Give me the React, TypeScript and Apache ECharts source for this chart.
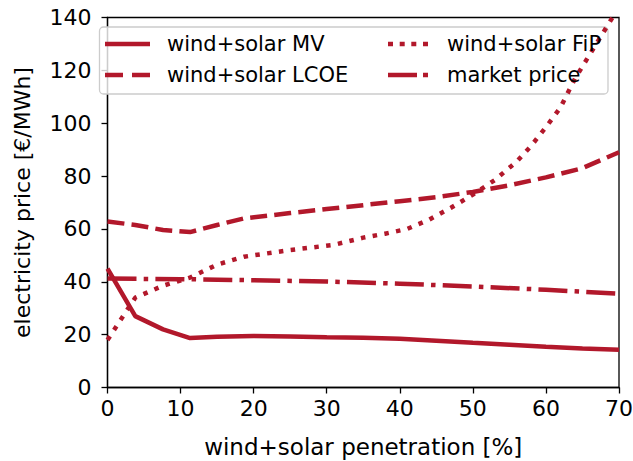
import React, { useEffect, useRef } from "react";
import * as echarts from "echarts";

const seriesNames = ["wind+solar MV", "wind+solar LCOE", "wind+solar FiP", "market price"];

const mvData: [number, number][] = [
  [0, 45], [3.8, 27], [7.6, 22], [11.3, 18.7], [15, 19.2], [20, 19.5], [25, 19.3],
  [30, 19], [35, 18.8], [40, 18.4], [45, 17.7], [50, 16.9], [55, 16.2], [60, 15.4],
  [65, 14.8], [70, 14.3],
];
const lcoeData: [number, number][] = [
  [0, 62.8], [3.8, 61.5], [7.6, 59.6], [11.3, 58.8], [15, 61.5], [18.7, 64], [25, 66],
  [30, 67.5], [35, 69], [40, 70.5], [45, 72], [50, 74], [55, 76.5], [60, 79.5],
  [65, 83], [70, 89],
];
const fipData: [number, number][] = [
  [0, 18], [3.8, 34], [7.6, 38.5], [11.3, 41.6], [15, 46.5], [18.7, 49.5], [25, 52],
  [31, 54], [35, 56.7], [38, 58.2], [41, 60], [44, 63.5], [47, 68], [50, 73],
  [53, 78.5], [56, 85.5], [58, 91.5], [60, 98.5], [62, 106], [64, 117], [66, 126],
  [68, 135], [70, 144],
];
const marketData: [number, number][] = [
  [0, 41.2], [10, 41], [20, 40.6], [30, 40.1], [40, 39.3], [50, 38.2], [60, 37], [70, 35.5],
];

const COLOR = "#b2182b";
const FONT = "DejaVu Sans";
const LW = 4.5;

const ICONS = [
  "path://M0,0H45V4.5H0Z",
  "path://M0,0H18V4.5H0ZM27,0H45V4.5H27Z",
  "path://M0,0H5V4.5H0ZM11.7,0H16.7V4.5H11.7ZM23.3,0H28.3V4.5H23.3ZM35,0H40V4.5H35Z",
  "path://M0,0H29V4.5H0ZM35,0H40V4.5H35Z",
];

export default function App() {
  const ref = useRef<HTMLDivElement>(null);
  useEffect(() => {
    if (!ref.current) return;
    const chart = echarts.init(ref.current, undefined, { renderer: "svg" });
    const mk = (name: string, data: [number, number][], type: any) => ({
      name,
      type: "line",
      data,
      symbol: "none",
      clip: true,
      lineStyle: { color: COLOR, width: LW, type, cap: "butt" },
      itemStyle: { color: COLOR },
    });
    const legendText = {
      fontSize: 21, color: "#000", fontFamily: FONT, lineHeight: 24, padding: [0, 0, 0, 12],
    };
    chart.setOption({
      animation: false,
      textStyle: { fontFamily: FONT },
      grid: {
        left: 107.5, right: 14, top: 17.5, bottom: 73.5,
        outerBoundsMode: "none", containLabel: false,
        show: true, borderColor: "#000", borderWidth: 1.3, backgroundColor: "transparent",
      },
      xAxis: {
        type: "value", min: 0, max: 70, interval: 10,
        name: "wind+solar penetration [%]", nameLocation: "middle", nameGap: 48,
        nameTextStyle: { fontSize: 23, color: "#000", fontFamily: FONT },
        axisLine: { show: true, lineStyle: { color: "#000", width: 1.3 } },
        axisTick: { show: true, inside: false, length: 6, lineStyle: { color: "#000", width: 1.3 } },
        axisLabel: { fontSize: 22, color: "#000", margin: 10, fontFamily: FONT },
        splitLine: { show: false },
      },
      yAxis: {
        type: "value", min: 0, max: 140, interval: 20,
        name: "electricity price [€/MWh]", nameLocation: "middle", nameGap: 74,
        nameTextStyle: { fontSize: 22, color: "#000", fontFamily: FONT },
        axisLine: { show: true, lineStyle: { color: "#000", width: 1.3 } },
        axisTick: { show: true, inside: false, length: 6, lineStyle: { color: "#000", width: 1.3 } },
        axisLabel: { fontSize: 22, color: "#000", margin: 16, fontFamily: FONT },
        splitLine: { show: false },
      },
      graphic: [
        {
          type: "rect", z: 3,
          shape: { x: 99.5, y: 27, width: 508.5, height: 67, r: 4 },
          style: { fill: "rgba(255,255,255,0.8)", stroke: "#cccccc", lineWidth: 1.3 },
        },
      ],
      legend: [
        {
          data: [
            { name: seriesNames[0], icon: ICONS[0] },
            { name: seriesNames[1], icon: ICONS[1] },
          ],
          orient: "vertical", left: 105, top: 32, padding: 0, itemGap: 7,
          itemWidth: 45, itemHeight: 4.5, z: 5,
          itemStyle: { color: COLOR, borderWidth: 0 },
          lineStyle: { width: 0 },
          textStyle: legendText,
        },
        {
          data: [
            { name: seriesNames[2], icon: ICONS[2] },
            { name: seriesNames[3], icon: ICONS[3] },
          ],
          orient: "vertical", left: 388, top: 32, padding: 0, itemGap: 7,
          itemWidth: 40, itemHeight: 4.5, z: 5,
          itemStyle: { color: COLOR, borderWidth: 0 },
          lineStyle: { width: 0 },
          textStyle: { ...legendText, padding: [0, 0, 0, 14] },
        },
      ],
      series: [
        mk(seriesNames[0], mvData, "solid"),
        mk(seriesNames[1], lcoeData, [17, 7.2]),
        mk(seriesNames[2], fipData, [4.5, 7.4]),
        mk(seriesNames[3], marketData, [29, 7.2, 4.5, 7.2]),
      ],
    });
    return () => chart.dispose();
  }, []);
  return <div ref={ref} style={{ width: 633, height: 461, position: "absolute", left: 0, top: 0 }} />;
}
